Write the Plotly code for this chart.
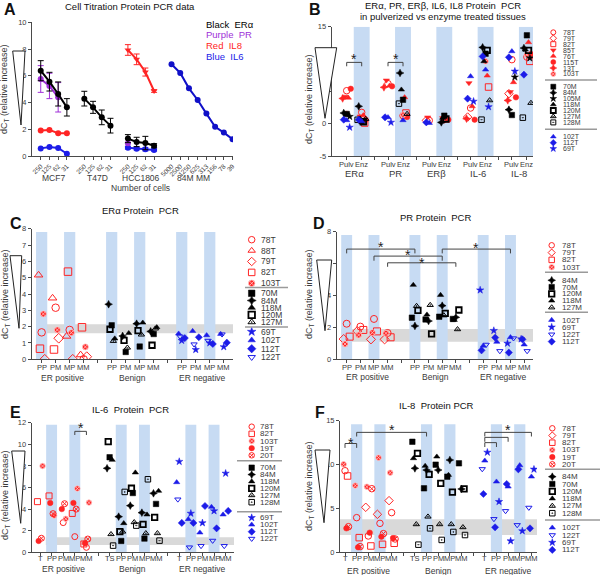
import plotly.graph_objects as go

# ======================= DATA =======================
# Panel A: cell titration
A_DOSE_CELL = ["250", "125", "62", "31"]
A_DOSE_84M = ["5000", "2500", "1250", "625", "313", "156", "78", "39"]
A_LINES = ["MCF7", "T47D", "HCC1806", "84M MM"]
A_ERA_MCF7 = [6.38, 5.56, 4.64, 3.64]
A_ERA_MCF7_ERR = [0.75, 0.7, 0.9, 0.65]
A_PR_MCF7 = [5.76, 5.24, 4.39]
A_PR_MCF7_ERR = [1.0, 0.95, 1.1]
A_IL8_MCF7 = [1.9, 1.95, 1.7, 1.7]
A_IL6_MCF7 = [0.57, 0.67, 0.6, 0.17]
A_ERA_T47D = [4.29, 3.64, 2.89, 2.27]
A_ERA_T47D_ERR = [0.55, 0.45, 0.55, 0.55]
A_ERA_HCC = [1.3, 1.05, 0.97, 0.77]
A_ERA_HCC_ERR = [0.3, 0.35, 0.5, 0.15]
A_PR_HCC = [0.95]
A_IL6_HCC = [0.62, 0.55, 0.5, 0.45]
A_IL6_HCC_ERR = [0.1, 0.1, 0.12, 0.08]
A_IL8_HCC = [7.93, 7.23, 6.28, 4.86]
A_IL8_HCC_ERR = [0.4, 0.4, 0.3, 0.1]
A_IL6_84M = [6.86, 6.21, 5.06, 4.19, 3.17, 2.19, 1.75, 1.25]

# Panel B: order = ERa Pulv, ERa Enz, PR Pulv, PR Enz, ERb Pulv, ERb Enz, IL6 Pulv, IL6 Enz, IL8 Pulv, IL8 Enz
B_TARGETS = ["ERα", "PR", "ERβ", "IL-6", "IL-8"]
B_METHODS = ["Pulv", "Enz"]
B_78T = [5.1, 1.75, 6.19, 1.24, 0.5, 0.62, 2.42, None, 9.9, 10.3]
B_79T = [None, None, None, None, 0.5, None, 1.03, None, 4.64, None]
B_82T = [None, 0.1, None, 1.65, None, None, None, 5.67, None, 9.64]
B_85T = [4.2, 1.13, 6.7, None, 0.98, 0.88, 6.29, None, 4.9, None]
B_76T = [4.0, 1.29, 5.88, 4.07, None, 0.72, 2.68, 7.42, 6.4, 12.58]
B_115T = [5.4, 0.62, 5.77, 1.03, None, 0.62, 0.62, None, 4.07, 10.77]
B_13T = [3.9, None, 5.62, None, None, None, 0.77, None, 3.6, None]
B_103T = [1.55, None, None, 1.39, None, None, None, 9.64, None, 10.67]
B_70M = [1.5, 0.36, None, 3.7, None, 1.24, None, 10.82, 1.34, 13.66]
B_84M = [1.65, 2.68, None, 7.84, None, 0.2, None, 11.8, 2.16, 11.7]
B_105M = [1.1, None, None, None, None, None, None, None, 7.2, 10.15]
B_118M = [None, 0.77, None, 5.26, None, 0.88, None, 9.64, None, 11.44]
B_120M = [None, 0.3, None, None, None, 0.72, None, 11.34, None, 11.34]
B_127M = [None, 0.72, None, 1.5, None, None, None, 3.6, None, 3.2]
B_128M = [None, 0.6, None, 3.1, None, None, None, 0.62, None, 0.93]
B_102T = [0.52, 0.36, 0.98, 0.52, 0.1, None, 7.32, 8.35, 11.19, None]
B_112T = [0.62, 0.62, 0.98, None, 0.2, None, 3.87, 10.4, 10.26, 7.58]
B_69T = [-0.57, None, 0.2, None, None, None, 3.45, 2.6, 8.1, None]

# Panels C, D: categories per group
CD_CATS = ["PP", "PM", "MP", "MM"]
GROUPS = ["ER positive", "Benign", "ER negative"]
C_78T = [1.65, 3.16, 1.8, 0.0]
C_88T = [5.16, 3.75, 1.41, 0.27]
C_79T = [0.0, 1.29, 0.0, 0.16]
C_82T = [0.65, 0.6, 5.37, 1.96]
C_103T = [2.78, 1.8, 1.63, 0.76]
C_70M = [2.08, 0.45, 0.78, 1.55]
C_84M = [3.37, 1.43, 2.18, 1.71]
C_118M = [1.27, 1.6, 2.24, 1.96]
C_120M = [1.84, 1.16, 1.76, 0.86]
C_127M = [1.12, 0.71, 1.51, 1.88]
C_69T = [1.15, 0.59, 1.0, 0.76]
C_102T = [1.57, 1.73, 1.47, 1.55]
C_112T = [1.3, 1.35, 0.94, 1.02]
C_122T = [1.4, 0.92, 1.14, 1.53]

D_78T = [2.23, 2.05, 2.53, 1.65]
D_79T = [1.27, 1.77, 1.25, 1.25]
D_82T = [1.42, 1.84, 1.75, 1.38]
D_103T = [0.96, 1.52, 1.67, 1.63]
D_84M = [2.09, 2.4, 3.36, 2.63]
D_70M = [2.61, 2.5, 2.67, 2.53]
D_120M = [3.07, 1.59, 2.88, 3.09]
D_118M = [4.66, 2.8, 4.03, 2.46]
D_127M = [3.34, 3.4, 2.75, 1.88]
D_102T = [0.84, 1.09, 1.38, 0.92]
D_69T = [4.34, 1.8, 1.0, 1.27]
D_122T = [0.92, 0.52, 1.32, 0.52]
D_112T = [0.56, 1.36, 0.42, 1.25]

# Panels E, F
EF_CATS_TUMOR = ["T", "PP", "PM", "MP", "MM"]
EF_CATS_BENIGN = ["TS", "PP", "PM", "MP", "MM"]
E_78T = [None, None, 2.75, 1.45, 0.46]
E_82T = [4.69, 5.22, None, 3.6, 0.77]
E_103T = [7.99, 3.4, 3.1, 5.9, 4.6]
E_19T = [1.05, 4.57, 4.0, 4.57, 0.83]
E_20T = [1.3, 3.58, 4.5, 4.0, 1.23]
E_70M = [8.8, 1.05, 5.49, 1.27, 4.48]
E_84M = [7.78, 3.3, 4.32, 3.67, 5.46]
E_118M = [8.55, 2.69, 7.38, 3.49, 5.68]
E_120M = [10.25, 1.91, 5.93, 2.59, 3.24]
E_127M = [1.67, 1.91, 2.78, 1.76, 1.76]
E_128M = [0.62, 5.59, 2.47, 6.76, 1.08]
E_69T = [8.4, 3.6, 2.72, 3.83, 7.31]
E_102T = [6.48, 3.06, 1.82, 4.2, 3.49]
E_112T = [2.72, 2.72, 4.29, 2.22, 3.83]
E_122T = [4.9, 0.46, 0.59, 1.08, 0.59]

F_78T = [9.3, 3.95, 1.86, 3.3, 4.52]
F_79T = [None, None, 5.13, 4.33, 5.89]
F_82T = [8.7, 1.67, 0.72, 0.91, 1.03]
F_103T = [10.03, 7.6, 7.48, 10.79, 9.08]
F_19T = [2.73, 0.57, 2.24, 1.78, 1.63]
F_20T = [2.92, 0.65, 7.25, 2.13, 1.52]
F_84M = [9.57, 9.38, 9.38, 10.52, 7.22]
F_70M = [12.6, 7.29, 9.99, 8.62, 10.14]
F_120M = [11.28, 8.89, 7.86, 6.87, 7.22]
F_118M = [10.71, 9.84, 10.9, 8.81, None]
F_127M = [3.19, 4.06, 3.19, 3.19, 2.85]
F_128M = [0.87, 2.73, 1.41, 2.32, 1.97]
F_102T = [10.44, 8.05, 7.48, 9.91, 8.62]
F_122T = [9.49, 3.8, 4.71, 3.11, 5.09]
F_69T = [11.39, 5.77, 1.29, 2.43, 9.46]
F_112T = [6.65, 2.85, 7.79, 9.46, 2.73]

# ======================= STYLE =======================
W, H = 600, 575
FONT = "Liberation Sans, Arial, sans-serif"
RED = "#ff2424"
BLACK = "#000000"
BLUE = "#1c1ce8"
PURPLE = "#a030d8"
BAND_BLUE = "#c7dbf3"
BAND_GRAY = "#d9d9d9"
AX = "#4a4a4a"
TXT = "#3a3a3a"
JIT = [0.0, -0.22, 0.22, -0.12, 0.12, 0.3, -0.3]

SYMBOLS = {
    "78T": "circle-open", "79T": "diamond-open", "82T": "square-open", "88T": "triangle-up-open",
    "85T": "triangle-down", "76T": "triangle-up", "115T": "circle", "13T": "star-diamond",
    "103T": "circle-x", "19T": "circle", "20T": "circle-x-open",
    "70M": "square", "84M": "star-diamond", "105M": "star", "118M": "triangle-up",
    "120M": "square-open", "127M": "triangle-up-open-dot", "128M": "square-open-dot",
    "102T": "triangle-up", "112T": "diamond", "69T": "star", "122T": "triangle-down-open",
}


def fx(p):
    return p / W


def fy(p):
    return 1 - p / H


def mstyle(name, color, size):
    sym = SYMBOLS[name]
    lc, lw = color, 1.0
    if "open" not in sym:
        lw = 0.5
    if name == "103T":
        lc, lw = "#ffc8c8", 0.8
    if name == "120M":
        lw = 1.8
    return sym, lc, lw


fig = go.Figure()
shapes = []
ann = []
layout = dict(width=W, height=H, margin=dict(l=0, r=0, t=0, b=0, autoexpand=False), paper_bgcolor="white",
              plot_bgcolor="rgba(0,0,0,0)", template="none", showlegend=False,
              font=dict(family=FONT, color=TXT))


def set_axes(n, xd, yd, xr, yr, xtv, xtt, ytv, xfont=7.5, xangle=0, yfont=7.5, xlabels=True):
    xa = "xaxis" if n == 1 else f"xaxis{n}"
    ya = "yaxis" if n == 1 else f"yaxis{n}"
    common = dict(showline=True, linecolor=AX, linewidth=1, ticks="outside", ticklen=3,
                  tickcolor=AX, showgrid=False, zeroline=False, fixedrange=True, tickmode="array",
                  automargin=False)
    layout[xa] = dict(domain=[fx(xd[0]), fx(xd[1])], range=list(xr),
                      anchor="y" if n == 1 else f"y{n}", tickvals=xtv, ticktext=xtt,
                      showticklabels=xlabels,
                      tickangle=xangle, tickfont=dict(size=xfont, color=TXT, family=FONT), **common)
    layout[ya] = dict(domain=[fy(yd[0]), fy(yd[1])], range=list(yr),
                      anchor="x" if n == 1 else f"x{n}", tickvals=ytv,
                      ticktext=[str(v) for v in ytv],
                      tickfont=dict(size=yfont, color=TXT, family=FONT), **common)


def axn(n):
    return ("x", "y") if n == 1 else (f"x{n}", f"y{n}")


def text(x, y, s, size=9, color=TXT, xanchor="center", angle=0, bold=False):
    if bold:
        s = f"<b>{s}</b>"
    ann.append(dict(x=fx(x), y=fy(y), xref="paper", yref="paper", text=s, showarrow=False,
                    xanchor=xanchor, yanchor="middle", textangle=angle,
                    font=dict(size=size, color=color, family=FONT)))


def xlabel(n, x, y_px, s, size=7.5):
    xr, _ = axn(n)
    ann.append(dict(x=x, y=fy(y_px), xref=xr, yref="paper", text=s, showarrow=False,
                    xanchor="center", yanchor="middle", font=dict(size=size, color=TXT, family=FONT)))


def wedge(x0, x1, y0, xb, yb):
    shapes.append(dict(type="path", xref="paper", yref="paper",
                       path=f"M {fx(x0)},{fy(y0)} L {fx(x1)},{fy(y0)} L {fx(xb)},{fy(yb)} Z",
                       line=dict(color="#222", width=1), fillcolor="white"))


def band(n, x0, x1, y0, y1, color):
    xr, yr = axn(n)
    shapes.append(dict(type="rect", xref=xr, yref=yr, x0=x0, x1=x1, y0=y0, y1=y1,
                       fillcolor=color, line=dict(width=0), layer="below"))


def bracket(n, x0, x1, y, drop, star_x=None, star_y=None):
    xr, yr = axn(n)
    shapes.append(dict(type="path", xref=xr, yref=yr,
                       path=f"M {x0},{y - drop} L {x0},{y} L {x1},{y} L {x1},{y - drop}",
                       line=dict(color="#444", width=1)))
    if star_x is not None:
        ann.append(dict(x=star_x, y=star_y, xref=xr, yref=yr, text="*", showarrow=False,
                        yshift=-3, font=dict(size=14, color="#222", family=FONT)))


def add_series(n, series, color, xpos, jscale, size, open_size=None):
    xr, yr = axn(n)
    for k, (name, vals) in enumerate(series):
        off = JIT[k % len(JIT)] * jscale
        xs, ys = [], []
        for j, v in enumerate(vals):
            if v is None:
                continue
            xs.append(xpos(j) + off)
            ys.append(v)
        sym, lc, lw = mstyle(name, color, size)
        sz = open_size if (open_size and "open" in sym) else size
        fig.add_trace(go.Scatter(x=xs, y=ys, mode="markers", xaxis=xr, yaxis=yr, hoverinfo="skip",
                                 marker=dict(symbol=sym, size=sz, color=color,
                                             line=dict(color=lc, width=lw))))


def legend(mx, tx, groups, seps, sep_x, fsize, msize):
    for names, color, y0, step in groups:
        ys = [y0 + i * step for i in range(len(names))]
        st = [mstyle(nm, color, msize) for nm in names]
        fig.add_trace(go.Scatter(x=[mx] * len(names), y=ys, mode="markers", xaxis="x7", yaxis="y7",
                                 hoverinfo="skip",
                                 marker=dict(symbol=[s[0] for s in st], size=msize, color=color,
                                             line=dict(color=[s[1] for s in st], width=[s[2] for s in st]))))
        for nm, y in zip(names, ys):
            text(tx, y, nm, size=fsize, xanchor="left")
    for s in seps:
        shapes.append(dict(type="line", xref="paper", yref="paper", x0=fx(sep_x[0]), x1=fx(sep_x[1]),
                           y0=fy(s), y1=fy(s), line=dict(color="#9a9a9a", width=1.5)))


YT = "dC<sub>T</sub> (relative increase)"

# ======================= PANEL A =======================
A_STARTS = [0, 5, 10, 15]
a_tv = [A_STARTS[g] + i for g in range(3) for i in range(4)] + [15 + i for i in range(8)]
a_tt = A_DOSE_CELL * 3 + A_DOSE_84M
set_axes(1, (32, 233), (156, 22.3), (-1, 22.05), (0, 10), a_tv, a_tt, [0, 2, 4, 6, 8, 10],
         xfont=6.5, xangle=-45)


def a_line(start, vals, color, symbol="circle", err=None):
    xs = [start + i for i in range(len(vals))]
    tr = dict(x=xs, y=vals, mode="lines+markers", hoverinfo="skip",
              line=dict(color=color, width=2),
              marker=dict(symbol=symbol, size=6, color=color))
    if err is not None:
        tr["error_y"] = dict(type="data", array=err, color=color, thickness=1, width=3)
    fig.add_trace(go.Scatter(**tr))


a_line(0, A_IL6_MCF7, BLUE)
a_line(0, A_IL8_MCF7, RED)
a_line(10, A_IL6_HCC, BLUE, err=A_IL6_HCC_ERR)
a_line(10, A_PR_HCC, PURPLE)
a_line(10, A_IL8_HCC, RED, symbol="triangle-down", err=A_IL8_HCC_ERR)
a_line(15, A_IL6_84M, "#1010c8")
a_line(0, A_PR_MCF7, PURPLE, err=A_PR_MCF7_ERR)
a_line(0, A_ERA_MCF7, BLACK, err=A_ERA_MCF7_ERR)
a_line(5, A_ERA_T47D, BLACK, err=A_ERA_T47D_ERR)
a_line(10, A_ERA_HCC, BLACK, err=A_ERA_HCC_ERR)

for g, name in enumerate(A_LINES):
    xlabel(1, [1.5, 6.5, 11.5, 17.5][g], 177.5, name, size=8.5)
text(140, 187.5, "Number of cells", size=8.5)
text(130, 6, "Cell Titration Protein PCR data", size=9.5, color="#111")
text(10, 9, "A", size=16, color="#111", bold=True)
text(5, 90, YT, size=9, angle=-90)
wedge(12.7, 25, 51, 21, 125)
for i, (lab, col) in enumerate([("Black  ERα", BLACK), ("Purple  PR", PURPLE),
                                 ("Red  IL8", RED), ("Blue  IL6", BLUE)]):
    text(204, [24, 34.3, 45.7, 56.7][i], lab, size=9.5, color=col, xanchor="left")

# ======================= PANEL B =======================
B_STEP = 2.753


def b_pos(j):
    return B_STEP * (j // 2) + (j % 2)


b_tv = []
for k in range(5):
    b_tv += [B_STEP * k, B_STEP * k + 1]
    if k < 4:
        b_tv.append(B_STEP * k + 1.875)
set_axes(2, (331.7, 533), (156, 26.7), (-1.0, 12.42), (-5, 15), b_tv, None, [-5, 0, 5, 10, 15],
         xlabels=False)
for k in range(5):
    band(2, B_STEP * k + 0.47, B_STEP * k + 1.53, -5, 15, BAND_BLUE)
    for m, lab in enumerate(B_METHODS):
        xlabel(2, B_STEP * k + m, 164, lab, size=7.5)
add_series(2, [("78T", B_78T), ("79T", B_79T), ("82T", B_82T), ("85T", B_85T), ("76T", B_76T),
               ("115T", B_115T), ("13T", B_13T), ("103T", B_103T)], RED, b_pos, 0.9, 5.5, 6.5)
add_series(2, [("70M", B_70M), ("84M", B_84M), ("105M", B_105M), ("118M", B_118M), ("120M", B_120M),
               ("127M", B_127M), ("128M", B_128M)], BLACK, b_pos, 0.9, 5.5)
add_series(2, [("102T", B_102T), ("112T", B_112T), ("69T", B_69T)], BLUE, b_pos, 0.9, 5.5)
bracket(2, 0, 1, 9.48, 0.6, 0.5, 10.4)
bracket(2, B_STEP, B_STEP + 1, 9.48, 0.6, B_STEP + 0.5, 10.4)
for k, name in enumerate(B_TARGETS):
    xlabel(2, B_STEP * k + 0.5, 173.5, name, size=9.5)
text(443, 5.5, "ERα, PR, ERβ, IL6, IL8 Protein  PCR", size=9.5, color="#111")
text(443, 16, "in pulverized vs enzyme treated tissues", size=9.5, color="#111")
text(315, 9, "B", size=16, color="#111", bold=True)
text(309, 100, YT, size=9, angle=-90)
wedge(315, 336.7, 47.7, 325, 118.3)
legend(553.3, 561, [(["78T", "79T", "82T", "85T", "76T", "115T", "13T", "103T"], RED, 32.3, 5.95),
                    (["70M", "84M", "105M", "118M", "120M", "127M", "128M"], BLACK, 86.7, 5.95),
                    (["102T", "112T", "69T"], BLUE, 136.7, 6.0)],
       [80, 129.3], (545, 597), 7, 5)

# ======================= PANELS C, D =======================


def cd_pos(g):
    return lambda j: 5 * g + j


cd_tv = []
for g in range(3):
    cd_tv += [5 * g + c for c in range(4)]
    if g < 2:
        cd_tv.append(5 * g + 4)


def cd_labels(n, y_tick, y_group):
    for g in range(3):
        for c, lab in enumerate(CD_CATS):
            xlabel(n, 5 * g + c, y_tick, lab)
        xlabel(n, 5 * g + 1.5, y_group, GROUPS[g], size=8.5)


# C
set_axes(3, (31.7, 233), (359.3, 228.7), (-0.71, 13.66), (0, 8), cd_tv, None, list(range(9)), xlabels=False)
band(3, -0.4, 13.66, 1.6, 2.15, BAND_GRAY)
for g in range(3):
    for c in (0, 2):
        band(3, 5 * g + c - 0.4, 5 * g + c + 0.4, 0, 7.8, BAND_BLUE)
add_series(3, [("78T", C_78T), ("88T", C_88T), ("79T", C_79T), ("82T", C_82T), ("103T", C_103T)],
           RED, cd_pos(0), 1.0, 6, 7.5)
add_series(3, [("70M", C_70M), ("84M", C_84M), ("118M", C_118M), ("120M", C_120M), ("127M", C_127M)],
           BLACK, cd_pos(1), 1.0, 5.5)
add_series(3, [("69T", C_69T), ("102T", C_102T), ("112T", C_112T), ("122T", C_122T)],
           BLUE, cd_pos(2), 1.0, 5.5)
cd_labels(3, 367.7, 378)
text(140, 211, "ERα Protein  PCR", size=9.5, color="#111")
text(16, 223, "C", size=16, color="#111", bold=True)
text(5, 295, YT, size=9, angle=-90)
wedge(10, 21.7, 255.7, 19, 328.3)
legend(251.7, 259, [(["78T", "88T", "79T", "82T", "103T"], RED, 239.7, 10.9),
                    (["70M", "84M", "118M", "120M", "127M"], BLACK, 293.3, 7.2),
                    (["69T", "102T", "112T", "122T"], BLUE, 331.7, 8.5)],
       [287.5, 327], (245, 288), 8.5, 6.5)

# D
set_axes(4, (336.7, 533), (359.3, 231.7), (-0.73, 13.65), (0, 8), cd_tv, None, [0, 2, 4, 6, 8], xlabels=False)
band(4, -0.4, 13.65, 1.1, 1.9, BAND_GRAY)
for g in range(3):
    for c in (0, 2):
        band(4, 5 * g + c - 0.4, 5 * g + c + 0.4, 0, 7.8, BAND_BLUE)
add_series(4, [("78T", D_78T), ("79T", D_79T), ("82T", D_82T), ("103T", D_103T)],
           RED, cd_pos(0), 1.0, 6, 7)
add_series(4, [("84M", D_84M), ("70M", D_70M), ("120M", D_120M), ("118M", D_118M), ("127M", D_127M)],
           BLACK, cd_pos(1), 1.0, 5.5)
add_series(4, [("102T", D_102T), ("69T", D_69T), ("122T", D_122T), ("112T", D_112T)],
           BLUE, cd_pos(2), 1.0, 5.5)
bracket(4, 0, 5, 6.91, 0.27, 2.5, 7.2)
bracket(4, 2, 7, 6.47, 0.29, 4.5, 6.72)
bracket(4, 3, 8, 6.05, 0.25, 5.5, 6.25)
bracket(4, 7, 12, 6.91, 0.27, 9.5, 7.15)
cd_labels(4, 367.7, 377)
text(435, 217.7, "PR Protein  PCR", size=9.5, color="#111")
text(319, 223, "D", size=16, color="#111", bold=True)
text(309, 295, YT, size=9, angle=-90)
wedge(316.7, 331.7, 260, 325, 330.7)
legend(551.7, 560, [(["78T", "79T", "82T", "103T"], RED, 245.3, 7.3),
                    (["84M", "70M", "120M", "118M", "127M"], BLACK, 280.3, 6.8),
                    (["102T", "69T", "122T", "112T"], BLUE, 320, 7.2)],
       [272.3, 312.3], (545, 588), 8, 5.5)

# ======================= PANELS E, F =======================


def ef_pos(g):
    return lambda j: 6 * g + j


ef_tv = []
for g in range(3):
    ef_tv += [6 * g + c for c in range(5)]
    if g < 2:
        ef_tv.append(6 * g + 5)


def ef_labels(n, y_tick, y_group):
    for g in range(3):
        cats = EF_CATS_BENIGN if g == 1 else EF_CATS_TUMOR
        for c, lab in enumerate(cats):
            xlabel(n, 6 * g + c, y_tick, lab)
        xlabel(n, 6 * g + 2, y_group, GROUPS[g], size=8.5)


# E
set_axes(5, (31.7, 234), (552.3, 422.7), (-0.716, 16.72), (0, 12), ef_tv, None, [0, 2, 4, 6, 8, 10, 12],
         xlabels=False)
band(5, 0.5, 16.72, 0.68, 1.39, BAND_GRAY)
for g in range(3):
    for c in (1, 3):
        band(5, 6 * g + c - 0.47, 6 * g + c + 0.47, 0, 11.8, BAND_BLUE)
add_series(5, [("78T", E_78T), ("82T", E_82T), ("103T", E_103T), ("19T", E_19T), ("20T", E_20T)],
           RED, ef_pos(0), 1.0, 5.5, 6)
add_series(5, [("70M", E_70M), ("84M", E_84M), ("118M", E_118M), ("120M", E_120M), ("127M", E_127M),
               ("128M", E_128M)], BLACK, ef_pos(1), 1.0, 5.5)
add_series(5, [("69T", E_69T), ("102T", E_102T), ("112T", E_112T), ("122T", E_122T)],
           BLUE, ef_pos(2), 1.0, 5.5)
bracket(5, 3, 4, 11.2, 0.34, 3.5, 11.75)
ef_labels(5, 558, 568.5)
text(130, 409, "IL-6  Protein  PCR", size=9.5, color="#111")
text(15, 412, "E", size=16, color="#111", bold=True)
text(5, 496, YT, size=9, angle=-90)
wedge(11.7, 25, 451, 20.7, 523.3)
legend(251.7, 258.3, [(["78T", "82T", "103T", "19T", "20T"], RED, 426.7, 7.15),
                      (["70M", "84M", "118M", "120M", "127M", "128M"], BLACK, 467.7, 6.9),
                      (["69T", "102T", "112T", "122T"], BLUE, 517.7, 7.0)],
       [460.7, 511.7], (237, 282), 8, 5.5)

# F
set_axes(6, (340, 537), (552.3, 420.7), (-0.43, 16.48), (0, 15), ef_tv, None, [0, 5, 10, 15], xlabels=False)
band(6, -0.43, 16.48, 1.97, 3.76, BAND_GRAY)
for g in range(3):
    for c in (1, 3):
        band(6, 6 * g + c - 0.48, 6 * g + c + 0.48, 0, 14.6, BAND_BLUE)
add_series(6, [("78T", F_78T), ("79T", F_79T), ("82T", F_82T), ("103T", F_103T), ("19T", F_19T),
               ("20T", F_20T)], RED, ef_pos(0), 1.0, 5.5, 6.5)
add_series(6, [("84M", F_84M), ("70M", F_70M), ("120M", F_120M), ("118M", F_118M), ("127M", F_127M),
               ("128M", F_128M)], BLACK, ef_pos(1), 1.0, 5.5)
add_series(6, [("102T", F_102T), ("122T", F_122T), ("69T", F_69T), ("112T", F_112T)],
           BLUE, ef_pos(2), 1.0, 5.5)
bracket(6, 0, 1, 12.4, 0.5, 0.5, 12.75)
bracket(6, 1, 7, 13.67, 0.47, 4, 14.3)
bracket(6, 12, 16, 13.67, 0.47, 14, 14.3)
bracket(6, 12, 14, 13.1, 0.5)
bracket(6, 12, 13, 12.5, 0.5)
ef_labels(6, 558, 570.5)
text(436.7, 405, "IL-8  Protein PCR", size=9.5, color="#111")
text(320, 412, "F", size=16, color="#111", bold=True)
text(309, 487, YT, size=9, angle=-90)
wedge(315, 330, 450, 324, 522.7)
legend(552.3, 560, [(["78T", "79T", "82T", "103T", "19T", "20T"], RED, 428.3, 7.2),
                    (["84M", "70M", "120M", "118M", "127M", "128M"], BLACK, 476.7, 7.3),
                    (["102T", "122T", "69T", "112T"], BLUE, 527.7, 7.4)],
       [469.3, 520], (545, 600), 8, 5.5)

# overlay pixel axis for legends
layout["xaxis7"] = dict(domain=[0, 1], range=[0, W], visible=False, anchor="y7", fixedrange=True)
layout["yaxis7"] = dict(domain=[0, 1], range=[H, 0], visible=False, anchor="x7", fixedrange=True)

layout["shapes"] = shapes
layout["annotations"] = ann
fig.update_layout(**layout)
fig.write_html("out.html", config={"displayModeBar": False, "staticPlot": True},
               post_script="document.body.style.margin='0px';")
